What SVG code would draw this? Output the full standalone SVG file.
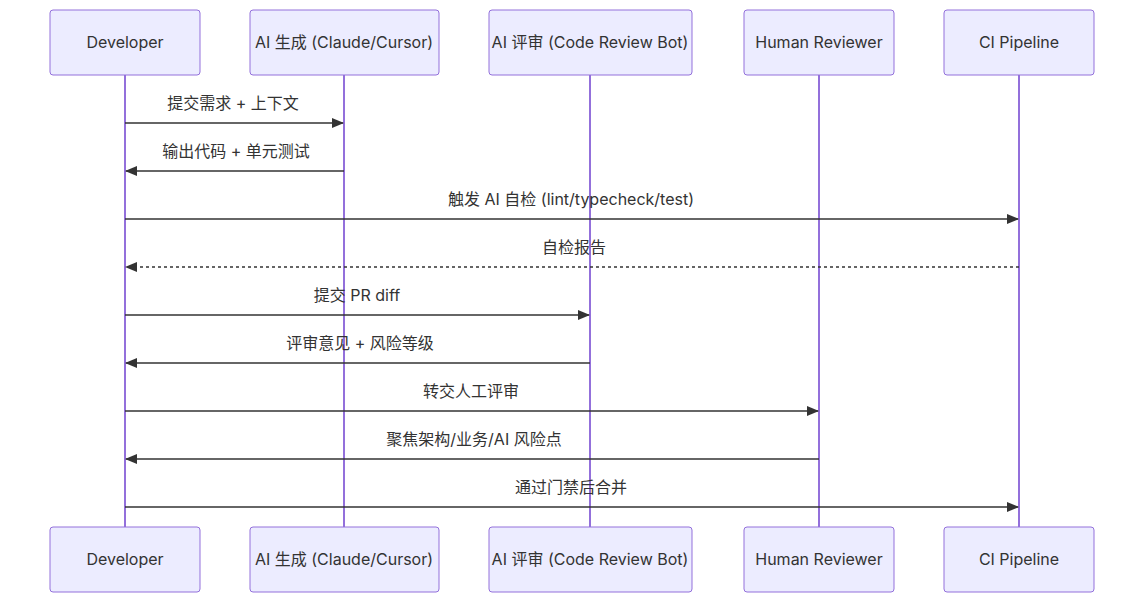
<svg xmlns="http://www.w3.org/2000/svg" width="1144" height="603" viewBox="0 0 1144 603">
<style>
.box{fill:#ECECFF;stroke:#9370DB;stroke-width:1}
.life{stroke:#9370DB;stroke-width:2}
.t{font-family:Inter,"Noto Sans CJK SC",sans-serif;font-size:16px;fill:#333;text-anchor:middle}
.m{stroke:#333;stroke-width:1.5;fill:none}
.d{stroke-dasharray:3,3}
</style>
<defs>
<marker id="ah" viewBox="0 0 12 10" refX="11" refY="5" markerWidth="12" markerHeight="10" markerUnits="userSpaceOnUse" orient="auto"><path d="M0,0 L12,5 L0,10 z" fill="#333"/></marker>
</defs>
<g id="lifelines">
<line class="life" x1="125" y1="75" x2="125" y2="527"/>
<line class="life" x1="344" y1="75" x2="344" y2="527"/>
<line class="life" x1="590" y1="75" x2="590" y2="527"/>
<line class="life" x1="819" y1="75" x2="819" y2="527"/>
<line class="life" x1="1019" y1="75" x2="1019" y2="527"/>
</g>
<g id="dev"><rect class="box" x="50" y="10" width="150" height="65" rx="3"/><text class="t" x="125" y="48">Developer</text></g>
<g id="gen"><rect class="box" x="250" y="10" width="189" height="65" rx="3"/><text class="t" x="344" y="48">AI 生成 (Claude/Cursor)</text></g>
<g id="rev"><rect class="box" x="489" y="10" width="203" height="65" rx="3"/><text class="t" x="590" y="48">AI 评审 (Code Review Bot)</text></g>
<g id="human"><rect class="box" x="744" y="10" width="150" height="65" rx="3"/><text class="t" x="819" y="48">Human Reviewer</text></g>
<g id="ci"><rect class="box" x="944" y="10" width="150" height="65" rx="3"/><text class="t" x="1019" y="48">CI Pipeline</text></g>
<g id="dev-b"><rect class="box" x="50" y="527" width="150" height="65" rx="3"/><text class="t" x="125" y="565">Developer</text></g>
<g id="gen-b"><rect class="box" x="250" y="527" width="189" height="65" rx="3"/><text class="t" x="344" y="565">AI 生成 (Claude/Cursor)</text></g>
<g id="rev-b"><rect class="box" x="489" y="527" width="203" height="65" rx="3"/><text class="t" x="590" y="565">AI 评审 (Code Review Bot)</text></g>
<g id="human-b"><rect class="box" x="744" y="527" width="150" height="65" rx="3"/><text class="t" x="819" y="565">Human Reviewer</text></g>
<g id="ci-b"><rect class="box" x="944" y="527" width="150" height="65" rx="3"/><text class="t" x="1019" y="565">CI Pipeline</text></g>
<g id="connectors">
<line class="m" x1="125" y1="123" x2="343" y2="123" marker-end="url(#ah)"/><text class="t" x="233" y="109">提交需求 + 上下文</text>
<line class="m" x1="344" y1="171" x2="126" y2="171" marker-end="url(#ah)"/><text class="t" x="236" y="157">输出代码 + 单元测试</text>
<line class="m" x1="125" y1="219" x2="1018" y2="219" marker-end="url(#ah)"/><text class="t" x="571" y="205">触发 AI 自检 (lint/typecheck/test)</text>
<line class="m d" x1="1019" y1="267" x2="126" y2="267" marker-end="url(#ah)"/><text class="t" x="574" y="253">自检报告</text>
<line class="m" x1="125" y1="315" x2="589" y2="315" marker-end="url(#ah)"/><text class="t" x="357" y="301">提交 PR diff</text>
<line class="m" x1="590" y1="363" x2="126" y2="363" marker-end="url(#ah)"/><text class="t" x="360" y="349">评审意见 + 风险等级</text>
<line class="m" x1="125" y1="411" x2="818" y2="411" marker-end="url(#ah)"/><text class="t" x="471" y="397">转交人工评审</text>
<line class="m" x1="819" y1="459" x2="126" y2="459" marker-end="url(#ah)"/><text class="t" x="474" y="445">聚焦架构/业务/AI 风险点</text>
<line class="m" x1="125" y1="507" x2="1018" y2="507" marker-end="url(#ah)"/><text class="t" x="571" y="493">通过门禁后合并</text>
</g>
</svg>
